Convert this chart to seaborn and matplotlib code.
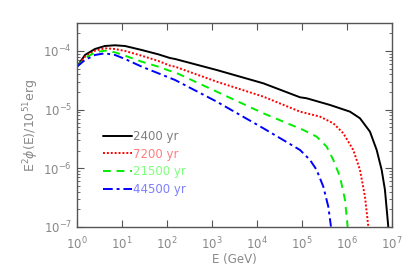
import matplotlib
matplotlib.use("Agg")
import matplotlib.pyplot as plt
import matplotlib.ticker as mticker
import numpy as np
import pandas as pd
import seaborn as sns

# log10(E / GeV) and log10(E^2 phi / 1e51 erg)
ages = ["2400 yr", "7200 yr", "21500 yr", "44500 yr"]

loge_2400 = [0.0, 0.178, 0.4, 0.622, 0.844, 1.067, 1.437, 1.807, 2.067, 2.178, 3.104, 4.141,
             4.956, 5.104, 5.622, 6.067, 6.289, 6.511, 6.66, 6.771, 6.844, 6.918]
logf_2400 = [-4.267, -4.068, -3.966, -3.915, -3.903, -3.915, -3.983, -4.057, -4.120, -4.136, -4.324, -4.551,
             -4.789, -4.806, -4.920, -5.034, -5.147, -5.375, -5.687, -6.027, -6.368, -6.993]

loge_7200 = [0.0, 0.178, 0.4, 0.622, 0.844, 1.067, 1.437, 1.807, 2.067, 2.178, 3.104, 4.141,
             4.956, 5.104, 5.4, 5.696, 5.918, 6.14, 6.289, 6.4, 6.474]
logf_7200 = [-4.267, -4.097, -3.995, -3.954, -3.966, -4.0, -4.08, -4.17, -4.25, -4.267, -4.523, -4.778,
             -5.034, -5.062, -5.119, -5.232, -5.402, -5.687, -6.027, -6.482, -6.993]

loge_21500 = [0.0, 0.178, 0.4, 0.622, 0.844, 1.067, 1.437, 1.807, 2.067, 2.178, 3.104, 4.141,
              5.029, 5.104, 5.326, 5.548, 5.696, 5.844, 5.956, 6.015]
logf_21500 = [-4.267, -4.125, -4.023, -3.995, -4.023, -4.08, -4.182, -4.267, -4.340, -4.363, -4.693, -5.062,
              -5.346, -5.375, -5.46, -5.63, -5.857, -6.141, -6.538, -6.993]

loge_44500 = [0.0, 0.178, 0.4, 0.622, 0.844, 1.067, 1.437, 1.807, 2.067, 2.178, 3.104, 4.141,
              4.956, 5.178, 5.326, 5.474, 5.585, 5.644]
logf_44500 = [-4.267, -4.153, -4.068, -4.04, -4.068, -4.136, -4.267, -4.38, -4.46, -4.494, -4.863, -5.317,
              -5.687, -5.857, -6.027, -6.312, -6.652, -6.993]

series = [(loge_2400, logf_2400), (loge_7200, logf_7200),
          (loge_21500, logf_21500), (loge_44500, logf_44500)]

line_colors = ["black", "#ff0000", "#00ee00", "#0000ff"]
text_colors = ["#7f7f7f", "#ff7f7f", "#7fff7f", "#7f7fff"]
dash_styles = ["-", (0, (1, 1)), (0, (4, 3)), (0, (5, 2, 1.5, 2))]

sns.set_style("ticks")
plt.rcParams["font.family"] = ["DejaVu Sans"]
plt.rcParams["mathtext.fontset"] = "dejavusans"

fig = plt.figure(figsize=(4.15, 2.73), dpi=100)
ax = fig.add_axes([0.1855, 0.1685, 0.759, 0.7473])

for (le, lf), age, col, ls in zip(series, ages, line_colors, dash_styles):
    df = pd.DataFrame({"E": 10 ** np.array(le), "flux": 10 ** np.array(lf)})
    sns.lineplot(data=df, x="E", y="flux", ax=ax, color=col, linestyle=ls,
                 linewidth=1.4, label=age, sort=False, estimator=None)

ax.set_xscale("log")
ax.set_yscale("log")
ax.set_xlim(1, 1e7)
ax.set_ylim(1e-7, 3e-4)

ax.xaxis.set_major_locator(mticker.LogLocator(base=10, numticks=10))
ax.xaxis.set_minor_locator(mticker.NullLocator())
ax.yaxis.set_major_locator(mticker.LogLocator(base=10, numticks=10))
ax.yaxis.set_minor_locator(mticker.LogLocator(base=10, subs=np.arange(2, 10), numticks=10))

ax.tick_params(which="both", direction="in", top=True, right=True,
               colors="#555555", labelcolor="#888888", labelsize=8.5)
ax.tick_params(which="major", length=5, width=0.8)
ax.tick_params(which="minor", length=2.5, width=0.6)
ax.tick_params(axis="x", pad=6)
for sp in ax.spines.values():
    sp.set_color("#555555")
    sp.set_linewidth(1.0)

ax.set_xlabel("E (GeV)", color="#888888", fontsize=8.5, labelpad=1)
ax.set_ylabel(r"E$^2\phi$(E)/10$^{51}$erg", color="#888888", fontsize=9, labelpad=2)

leg = ax.legend(loc="lower left", bbox_to_anchor=(0.05, 0.1), frameon=False,
                fontsize=8.5, handlelength=2.4, handletextpad=0.15,
                labelspacing=0.4, labelcolor=text_colors)

fig.savefig("out.png", dpi=100)
plt.close(fig)
